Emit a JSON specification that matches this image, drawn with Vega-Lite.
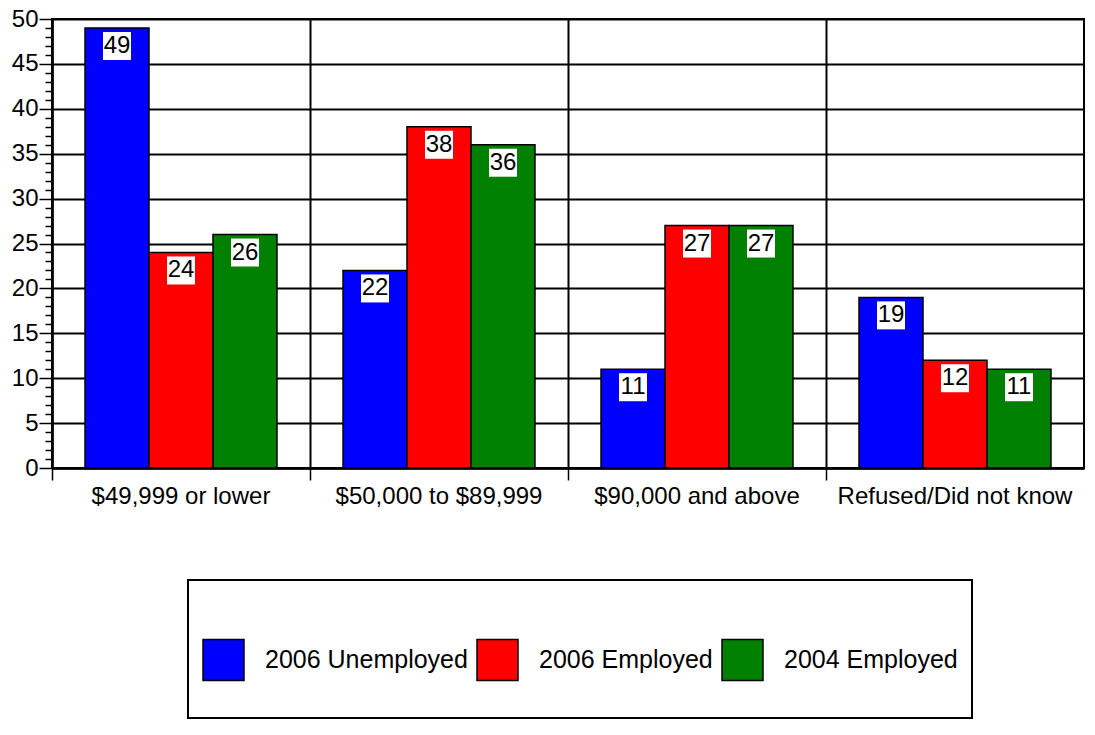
{
  "$schema": "https://vega.github.io/schema/vega-lite/v6.json",
  "width": 1032,
  "height": 449,
  "autosize": {"type": "none"},
  "padding": {"left": 52, "top": 19, "right": 11, "bottom": 267},
  "background": "white",
  "config": {
    "font": "Liberation Sans",
    "view": {"stroke": "black", "strokeWidth": 2}
  },
  "data": {
    "values": [
      {"category": "$49,999 or lower", "series": "2006 Unemployed", "value": 49},
      {"category": "$49,999 or lower", "series": "2006 Employed", "value": 24},
      {"category": "$49,999 or lower", "series": "2004 Employed", "value": 26},
      {"category": "$50,000 to $89,999", "series": "2006 Unemployed", "value": 22},
      {"category": "$50,000 to $89,999", "series": "2006 Employed", "value": 38},
      {"category": "$50,000 to $89,999", "series": "2004 Employed", "value": 36},
      {"category": "$90,000 and above", "series": "2006 Unemployed", "value": 11},
      {"category": "$90,000 and above", "series": "2006 Employed", "value": 27},
      {"category": "$90,000 and above", "series": "2004 Employed", "value": 27},
      {"category": "Refused/Did not know", "series": "2006 Unemployed", "value": 19},
      {"category": "Refused/Did not know", "series": "2006 Employed", "value": 12},
      {"category": "Refused/Did not know", "series": "2004 Employed", "value": 11}
    ]
  },
  "resolve": {"axis": {"x": "independent", "y": "independent"}},
  "layer": [
    {
      "mark": {"type": "bar", "stroke": "black", "strokeWidth": 1.5},
      "encoding": {
        "x": {
          "field": "category", "type": "nominal", "sort": null,
          "scale": {"paddingInner": 0, "paddingOuter": 0},
          "axis": {"title": null, "orient": "bottom", "ticks": false, "tickSize": 0, "labelPadding": 16,
                   "labelFontSize": 24, "labelColor": "black", "labelAngle": 0, "labelLimit": 0,
                   "domain": true, "domainColor": "black", "domainWidth": 2.5, "grid": false}
        },
        "xOffset": {
          "field": "series", "type": "nominal",
          "sort": ["2006 Unemployed", "2006 Employed", "2004 Employed"],
          "scale": {"paddingInner": 0, "paddingOuter": 0.516}
        },
        "y": {
          "field": "value", "type": "quantitative",
          "scale": {"domain": [0, 50], "nice": false},
          "axis": {"title": null, "orient": "left", "values": [0, 5, 10, 15, 20, 25, 30, 35, 40, 45, 50],
                   "tickSize": 13, "tickColor": "black", "tickWidth": 1.5, "labelFontSize": 24,
                   "labelColor": "black", "labelPadding": 1, "grid": true, "gridColor": "black",
                   "gridWidth": 2, "gridOpacity": 1, "domain": true, "domainColor": "black", "domainWidth": 2.5}
        },
        "color": {
          "field": "series", "type": "nominal",
          "sort": ["2006 Unemployed", "2006 Employed", "2004 Employed"],
          "scale": {"domain": ["2006 Unemployed", "2006 Employed", "2004 Employed"],
                    "range": ["#0000ff", "#ff0000", "#008000"]},
          "legend": {
            "title": " ", "titleFontSize": 12, "titlePadding": 10,
            "orient": "none", "legendX": 136, "legendY": 561,
            "direction": "horizontal", "fillColor": "white", "strokeColor": "black",
            "padding": 14, "columnPadding": 8, "labelOffset": 20, "clipHeight": 88,
            "symbolType": "square", "symbolSize": 1681, "symbolStrokeColor": "black",
            "symbolStrokeWidth": 1.5, "symbolOpacity": 1, "symbolFillOpacity": 1,
            "labelFontSize": 25, "labelColor": "black", "labelLimit": 0,
            "encode": {"legend": {"update": {"strokeWidth": {"value": 2}}}}
          }
        }
      }
    },
    {
      "mark": {"type": "point", "shape": "square", "size": 784, "filled": true, "fill": "white",
               "opacity": 1, "strokeWidth": 0, "yOffset": 18},
      "encoding": {
        "x": {
          "field": "category", "type": "nominal", "sort": null,
          "axis": {"title": null, "orient": "bottom", "bandPosition": 0, "labels": false, "ticks": true,
                   "tickSize": 12, "tickColor": "black", "tickWidth": 1.5, "grid": true,
                   "gridColor": "black", "gridWidth": 2, "gridOpacity": 1, "domain": false}
        },
        "xOffset": {
          "field": "series", "type": "nominal",
          "sort": ["2006 Unemployed", "2006 Employed", "2004 Employed"]
        },
        "y": {
          "field": "value", "type": "quantitative",
          "axis": {"title": null, "orient": "left",
                   "values": [1,2,3,4,6,7,8,9,11,12,13,14,16,17,18,19,21,22,23,24,26,27,28,29,31,32,33,34,36,37,38,39,41,42,43,44,46,47,48,49],
                   "labels": false, "tickSize": 7, "tickColor": "black", "tickWidth": 1.5,
                   "grid": false, "domain": false}
        }
      }
    },
    {
      "mark": {"type": "text", "fontSize": 24, "baseline": "middle", "align": "center", "color": "black", "yOffset": 18},
      "encoding": {
        "x": {"field": "category", "type": "nominal", "sort": null, "axis": null},
        "xOffset": {
          "field": "series", "type": "nominal",
          "sort": ["2006 Unemployed", "2006 Employed", "2004 Employed"]
        },
        "y": {"field": "value", "type": "quantitative", "axis": null},
        "text": {"field": "value", "type": "quantitative"}
      }
    }
  ]
}
